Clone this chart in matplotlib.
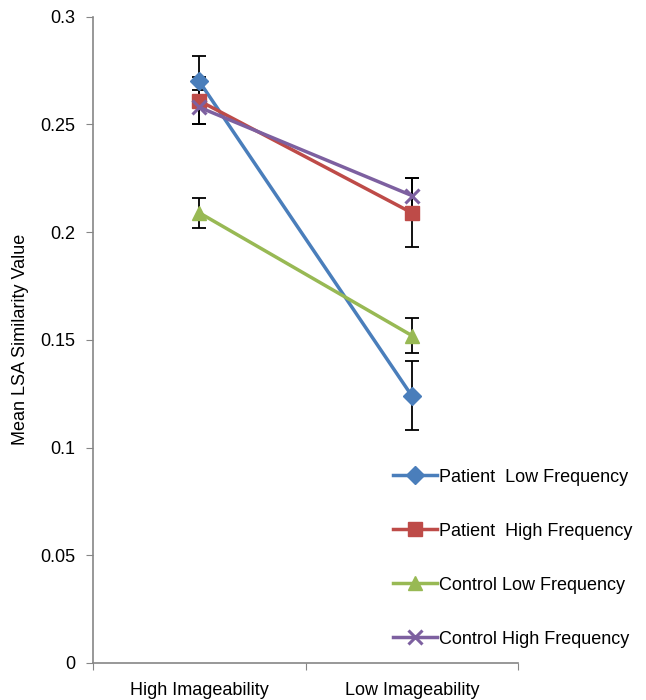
import numpy as np
import matplotlib.pyplot as plt

plt.rcParams['font.family'] = ['Liberation Sans', 'DejaVu Sans']

categories = ['High Imageability', 'Low Imageability']
series_names = ['Patient  Low Frequency', 'Patient  High Frequency',
                'Control Low Frequency', 'Control High Frequency']
patient_low = [0.270, 0.124]
patient_high = [0.261, 0.209]
control_low = [0.209, 0.152]
control_high = [0.258, 0.217]
err_patient_low = [0.012, 0.016]
err_patient_high = [0.011, 0.016]
err_control_low = [0.007, 0.008]
err_control_high = [0.008, 0.008]

values = [patient_low, patient_high, control_low, control_high]
errors = [err_patient_low, err_patient_high, err_control_low, err_control_high]
colors = ['#4A7EBB', '#BE4B48', '#98B954', '#7D60A0']
markers = ['D', 's', '^', 'x']
msizes = [9, 10, 10, 10]

fig = plt.figure(figsize=(6.46, 7.0), dpi=100)
ax = fig.add_axes([0.144, 0.053, 0.658, 0.923])

x = np.arange(len(categories)) + 0.5
handles = []
for vals, errs, c, m, ms, name in zip(values, errors, colors, markers, msizes, series_names):
    ax.errorbar(x, vals, yerr=errs, fmt='none', ecolor='black', elinewidth=1.3,
                capsize=5, capthick=1.3, zorder=2)
    ln, = ax.plot(x, vals, color=c, marker=m, markersize=ms, linewidth=2.5,
                  markeredgewidth=2.2 if m == 'x' else 1, markeredgecolor=c,
                  label=name, zorder=3)
    handles.append(ln)

ax.set_xlim(0, 2)
ax.set_ylim(0, 0.3)
ax.set_yticks([0, 0.05, 0.1, 0.15, 0.2, 0.25, 0.3])
ax.set_yticklabels(['0', '0.05', '0.1', '0.15', '0.2', '0.25', '0.3'])
ax.set_xticks([0, 1, 2])
ax.set_xticklabels([])
ax.set_xticks(x, minor=True)
ax.set_xticklabels(categories, minor=True)
ax.tick_params(axis='x', which='minor', length=0, pad=14, labelsize=13)
ax.tick_params(axis='x', which='major', length=5, color='#868686')
ax.tick_params(axis='y', length=5, color='#868686', labelsize=13, pad=8)
for s in ['top', 'right']:
    ax.spines[s].set_visible(False)
for s in ['left', 'bottom']:
    ax.spines[s].set_color('#868686')
    ax.spines[s].set_linewidth(1.2)

ax.set_ylabel('Mean LSA Similarity Value', fontsize=13, labelpad=8)

fig.legend(handles=handles, loc='upper left', bbox_to_anchor=(0.597, 0.341),
           frameon=False, fontsize=13, labelspacing=2.05, handlelength=2.45,
           handletextpad=0.1, borderaxespad=0)

fig.savefig('out.png', dpi=100)
